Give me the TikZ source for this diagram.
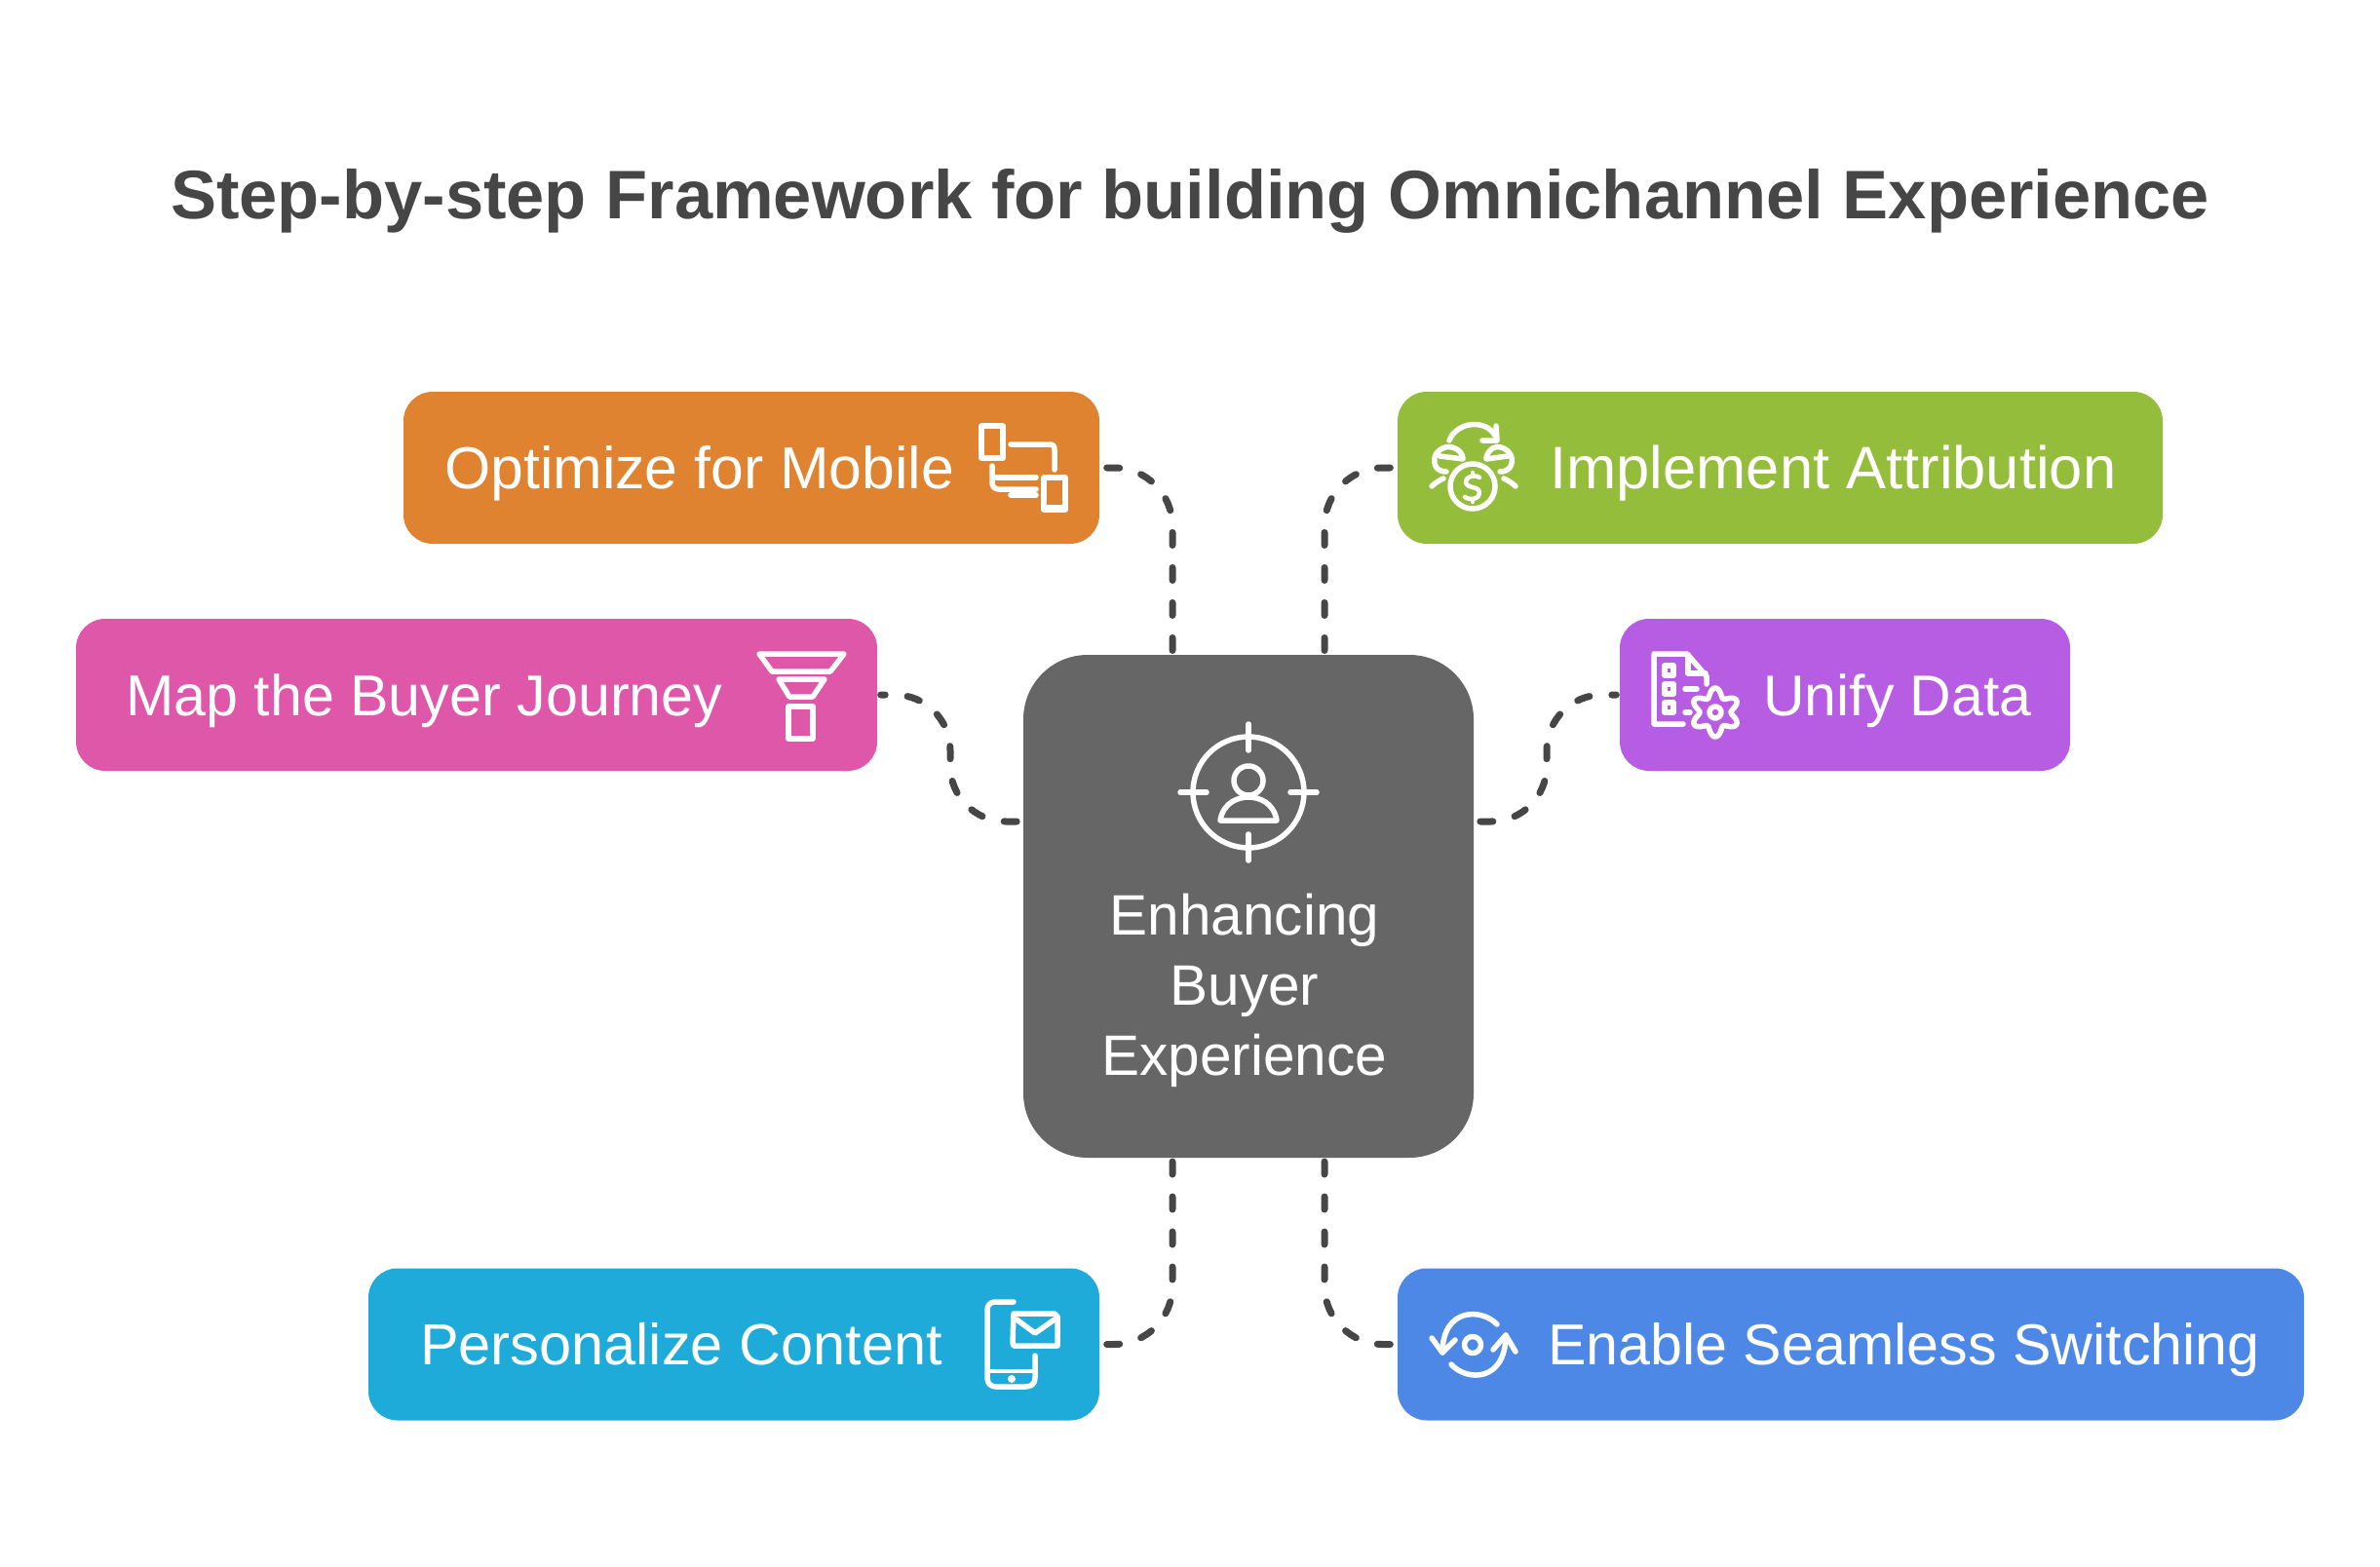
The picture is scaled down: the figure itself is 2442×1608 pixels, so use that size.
\documentclass[tikz,border=0pt]{standalone}
\usepackage{fontspec}
\setmainfont{Liberation Sans}
\usetikzlibrary{positioning}

\definecolor{orangebox}{HTML}{DF8331}
\definecolor{greenbox}{HTML}{93BD3A}
\definecolor{pinkbox}{HTML}{DF57A8}
\definecolor{purplebox}{HTML}{B65DE3}
\definecolor{cyanbox}{HTML}{1EABDA}
\definecolor{bluebox}{HTML}{4E88E7}
\definecolor{hubgray}{HTML}{666666}
\definecolor{inkgray}{HTML}{464646}

\tikzset{
    x=1pt, y=-1pt,
    stepbox/.style={minimum height=156pt, rounded corners=30pt, inner sep=0pt},
    steplabel/.style={text=white, anchor=base west, inner sep=0pt, font=\fontsize{#1}{70}\selectfont},
    hubbox/.style={fill=hubgray, rounded corners=66pt, minimum width=462pt, minimum height=516pt, inner sep=0pt},
    link/.style={draw=inkgray, line width=7pt, line cap=round, dash pattern=on 13pt off 23pt, dash phase=28.5pt, rounded corners=60pt},
    sidelink/.style={link, shorten <=3.5pt, dash phase=8.5pt, rounded corners=57pt},
    glyph/.style={draw=white, line width=5.5pt, line cap=round, line join=round},
    thinglyph/.style={draw=white, line width=3.5pt, line cap=round, line join=round},
}

\begin{document}
\begin{tikzpicture}
    \useasboundingbox (0,0) rectangle (2442,1608);

    % Title
    \node[text=inkgray, font=\fontsize{70.5}{80}\bfseries\selectfont] (title) at (1221,206) {Step-by-step Framework for building Omnichannel Experience};

    % Central box
    \node[hubbox] (hub) at (1281,930) {};
    \node[text=white, font=\fontsize{58.5}{72}\selectfont, align=center] (hubtext) at (1277,1016) {Enhancing\\Buyer\\Experience};

    % Boxes on the left
    \node[stepbox, fill=orangebox, minimum width=714pt] (mobile) at (771,480) {};
    \node[stepbox, fill=pinkbox, minimum width=822pt] (journey) at (489,713) {};
    \node[stepbox, fill=cyanbox, minimum width=750pt] (content) at (753,1379.5) {};

    % Boxes on the right
    \node[stepbox, fill=greenbox, minimum width=785pt] (attribution) at (1826.5,480) {};
    \node[stepbox, fill=purplebox, minimum width=462pt] (unify) at (1893,713) {};
    \node[stepbox, fill=bluebox, minimum width=930pt] (switching) at (1899,1379.5) {};

    % Labels
    \node[steplabel=60.7] (mobiletext) at (456,501) {Optimize for Mobile};
    \node[steplabel=59.2] (journeytext) at (129,734) {Map the Buyer Journey};
    \node[steplabel=59.5] (contenttext) at (431,1400) {Personalize Content};
    \node[steplabel=61.5] (attributiontext) at (1590,501) {Implement Attribution};
    \node[steplabel=59] (unifytext) at (1809,734) {Unify Data};
    \node[steplabel=59.2] (switchingtext) at (1588,1400) {Enable Seamless Switching};

    % Attachment points on the central box
    \coordinate (hubnw) at (1203,672);
    \coordinate (hubne) at (1359,672);
    \coordinate (hubsw) at (1203,1188);
    \coordinate (hubse) at (1359,1188);
    \coordinate (hubwest) at (1050,843);
    \coordinate (hubeast) at (1512,843);

    % Connectors
    \draw[link] (mobile.east) -| (hubnw);
    \draw[link] (attribution.west) -| (hubne);
    \draw[link] (content.east) -| (hubsw);
    \draw[link] (switching.west) -| (hubse);
    \draw[sidelink] (journey.east) -- (975,713) -- (975,843) -- (hubwest);
    \draw[sidelink] (unify.west) -- (1587,713) -- (1587,843) -- (hubeast);

    % Icon: person in crosshair
    \begin{scope}[shift={(1281,813)}]
        \draw[glyph] (0,0) circle (57);
        \draw[glyph] (0,-70) -- (0,-43);
        \draw[glyph] (0,43) -- (0,70);
        \draw[glyph] (-70,0) -- (-43,0);
        \draw[glyph] (43,0) -- (70,0);
        \draw[glyph] (0,-12) circle (15);
        \draw[glyph] (-29,29) .. controls (-26,10) and (-10,5) .. (0,5) .. controls (10,5) and (26,10) .. (29,29) -- cycle;
    \end{scope}

    % Icon: devices
    \begin{scope}[shift={(980,380)}]
        \draw[glyph] (27,57) rectangle (49,90);
        \draw[glyph] (57,76) -- (97,76) .. controls (101,76) and (102,78) .. (102,82) -- (102,102);
        \draw[glyph] (38,98) -- (38,115) .. controls (38,120) and (41,122) .. (45,122) -- (83,122);
        \draw[glyph] (42,110) -- (83,110);
        \draw[glyph] (57,128) -- (83,128);
        \draw[glyph] (91,110) rectangle (113,143);
        \draw[thinglyph] (93,140) -- (111,140);
    \end{scope}

    % Icon: coins
    \begin{scope}[shift={(1430,400)}]
        \draw[glyph] (57,52) .. controls (65,32) and (95,30) .. (104,47);
        \draw[glyph] (91,52) -- (106,52) -- (105,37);
        \draw[glyph] (71,70) .. controls (70,62) and (60,57) .. (53,59) .. controls (42,62) and (39,73) .. (44,80) .. controls (47,83) and (50,84) .. (54,84);
        \draw[glyph] (47,68) -- (71,71);
        \draw[glyph] (95,71) -- (117,68);
        \draw[glyph] (95,69) .. controls (98,60) and (105,57) .. (110,59) .. controls (121,62) and (124,73) .. (119,80) .. controls (116,83) and (113,84) .. (109,84);
        \draw[glyph] (39,99) .. controls (43,95) and (47,93) .. (51,91);
        \draw[glyph] (125,99) .. controls (121,95) and (117,93) .. (113,91);
        \draw[glyph] (81,99) circle (23);
        \draw[thinglyph, line width=4.5pt] (88,90) .. controls (82,86) and (73,90) .. (74,95) .. controls (75,102) and (88,98) .. (88,106) .. controls (88,112) and (79,114) .. (73,110);
        \draw[thinglyph, line width=4.5pt] (81,85) -- (81,88);
        \draw[thinglyph, line width=4.5pt] (81,112) -- (81,115);
    \end{scope}

    % Icon: funnel
    \begin{scope}[shift={(750,650)}]
        \draw[glyph] (29,21) -- (116,21) -- (102,39) -- (42,39) -- cycle;
        \draw[glyph] (49,47) -- (96,47) -- (84,65) -- (60,65) -- cycle;
        \draw[glyph] (59,75) rectangle (84,108);
    \end{scope}

    % Icon: data sheet and gear
    \begin{scope}[shift={(1680,640)}]
        \draw[glyph] (47,103) -- (17,103) -- (17,31) -- (51,31) -- (71,54) -- (71,62);
        \draw[glyph] (52,32) -- (52,51) -- (70,51);
        \draw[glyph] (28,43) rectangle (37,53);
        \draw[glyph] (28,62) rectangle (37,72);
        \draw[glyph] (28,81) rectangle (37,91);
        \draw[glyph] (49,67) -- (61,67);
        \draw[glyph] (49,91) -- (54,91);
        \draw[glyph] plot[domain=0:360, samples=121, smooth] ({80+(20.5+4.5*cos(6*(\x-90)))*cos(\x)}, {91+(20.5+4.5*cos(6*(\x-90)))*sin(\x)});
        \draw[glyph] (80,91) circle (6);
    \end{scope}

    % Icon: phone and envelope
    \begin{scope}[shift={(980,1300)}]
        \draw[glyph] (60,36) -- (42,36) .. controls (35,36) and (33,40) .. (33,44) -- (33,114) .. controls (33,120) and (37,123) .. (42,123) -- (72,123) .. controls (78,123) and (82,120) .. (82,114) -- (82,91);
        \draw[thinglyph] (33,107) -- (82,107);
        \fill[white] (58,115) circle (4);
        \draw[glyph] (60,48) -- (102,48) -- (105,51) -- (105,81) -- (60,81) -- (59,78) -- cycle;
        \draw[glyph] (63,54) -- (82,68) -- (102,54);
    \end{scope}

    % Icon: switching arrows
    \begin{scope}[shift={(1430,1300)}]
        \draw[glyph] (106,59) .. controls (90,42) and (50,42) .. (50,88);
        \draw[glyph] (39,73) -- (50,88) -- (63,75);
        \draw[glyph] (59,100) .. controls (75,118) and (115,118) .. (115,70);
        \draw[glyph] (102,85) -- (115,70) -- (125,87);
        \draw[glyph] (81,80) circle (8.5);
    \end{scope}

\end{tikzpicture}
\end{document}
